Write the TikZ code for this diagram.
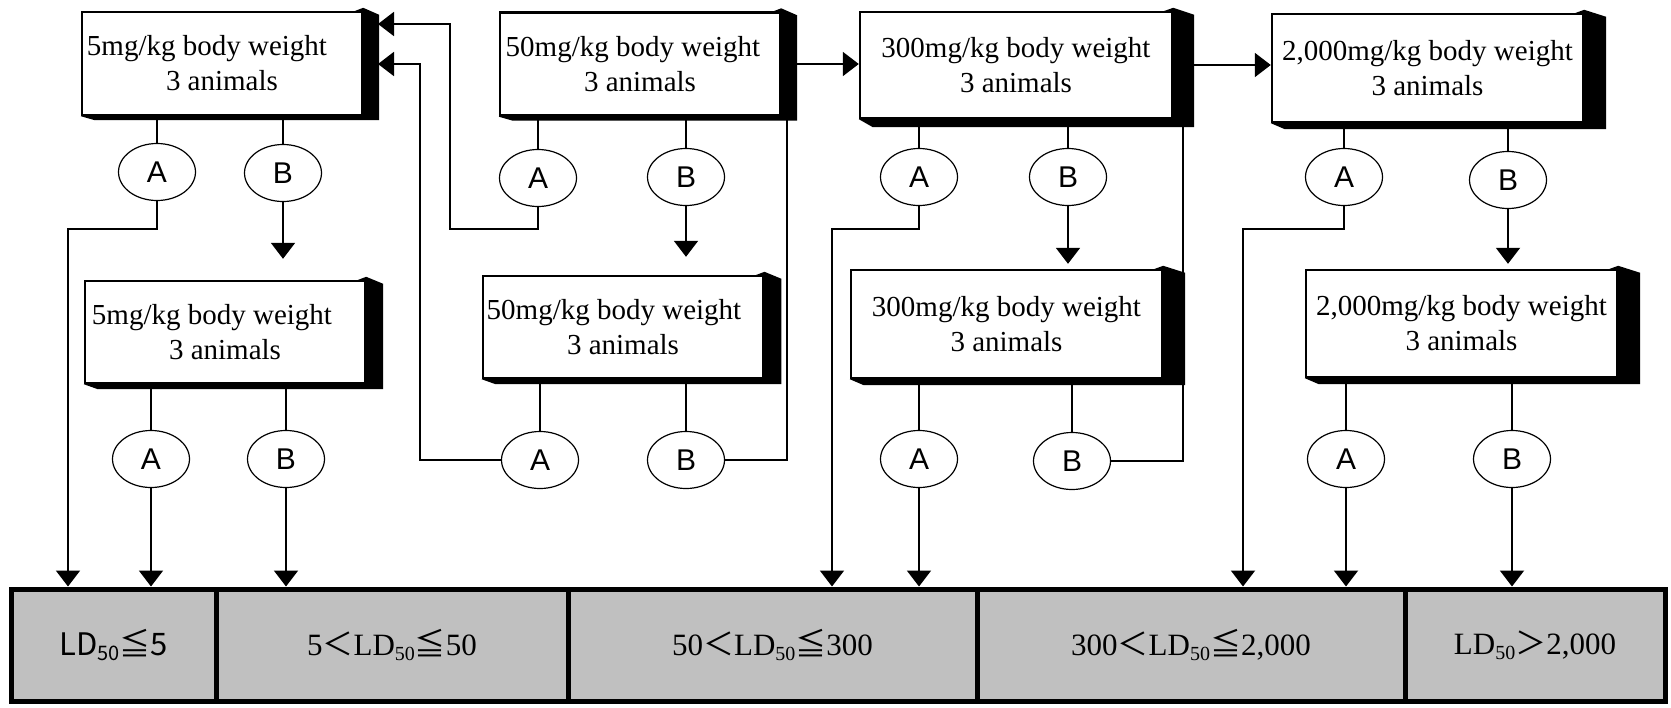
\documentclass[tikz,border=0pt]{standalone}
\usepackage{fontspec}
\setmainfont{Liberation Serif}
\newfontfamily\abfont{Liberation Sans}
\newfontfamily\cjk{Noto Sans CJK JP}
\usetikzlibrary{shapes.geometric,arrows.meta,backgrounds}
\definecolor{cellgray}{HTML}{C0C0C0}
\newcommand{\ldsub}[1]{\raisebox{-0.35ex}{\fontsize{10}{10}\selectfont #1}}
\tikzset{dose/.style={draw,line width=1.2pt,fill=white,align=center,inner sep=2pt,font=\fontsize{14.5}{17.5}\selectfont}}
\tikzset{test/.style={draw,ellipse,line width=0.6pt,minimum width=38.5pt,minimum height=28.5pt,inner sep=0pt,font=\abfont\fontsize{15}{15}\selectfont}}
\tikzset{class/.style={draw,line width=2.5pt,fill=cellgray,minimum height=56pt,inner sep=0pt,font=\fontsize{15.5}{17}\selectfont}}
\tikzset{link/.style={line width=0.6pt}}
\tikzset{arr/.style={line width=1pt,-{Triangle[width=12pt,length=8pt]}}}

\begin{document}
\begin{tikzpicture}[x=0.5pt,y=-0.5pt]
        \useasboundingbox (0,0) rectangle (1671,707);
        \node[dose,minimum width=140pt,minimum height=51.5pt] (t1) at (222,63.5) {5mg/kg body weight\hspace*{15pt}\\3 animals};
        \node[dose,minimum width=140pt,minimum height=51.5pt] (t2) at (640,64) {50mg/kg body weight\hspace*{7pt}\\3 animals};
        \node[dose,minimum width=156pt,minimum height=53pt] (t3) at (1016,65) {300mg/kg body weight\\3 animals};
        \node[dose,minimum width=155.5pt,minimum height=54pt] (t4) at (1427.5,68) {2,000mg/kg body weight\\3 animals};
        \node[dose,minimum width=140pt,minimum height=51pt] (s1) at (225,332) {5mg/kg body weight\hspace*{13pt}\\3 animals};
        \node[dose,minimum width=140pt,minimum height=51pt] (s2) at (623,327) {50mg/kg body weight\hspace*{9pt}\\3 animals};
        \node[dose,minimum width=155.5pt,minimum height=54pt] (s3) at (1006.5,324) {300mg/kg body weight\\3 animals};
        \node[dose,minimum width=155.5pt,minimum height=53.5pt] (s4) at (1461.5,323.5) {2,000mg/kg body weight\\3 animals};
        \begin{scope}[on background layer]
            \foreach \n/\dx/\dy in {t1/8/2,t2/8/2,t3/10.5/4,t4/11/3,s1/8.5/2.5,s2/8.5/2.5,s3/11/3,s4/11/3}
                \fill ([yshift=1.5pt]\n.north east) -- ([xshift=\dx pt,yshift=-2pt]\n.north east) -- ([xshift=\dx pt,yshift=-\dy pt]\n.south east) -- ([xshift=7pt,yshift=-\dy pt]\n.south west) -- (\n.south west) -- cycle;
        \end{scope}
        \node[test] (t1a) at (157,172) {A};
        \node[test] (t1b) at (283,173) {B};
        \node[test] (t2a) at (538,178) {A};
        \node[test] (t2b) at (686,177) {B};
        \node[test] (t3a) at (919,177) {A};
        \node[test] (t3b) at (1068,177) {B};
        \node[test] (t4a) at (1344,177) {A};
        \node[test] (t4b) at (1508,180) {B};
        \node[test] (s1a) at (151,459) {A};
        \node[test] (s1b) at (286,459) {B};
        \node[test] (s2a) at (540,460) {A};
        \node[test] (s2b) at (686,460) {B};
        \node[test] (s3a) at (919,459) {A};
        \node[test] (s3b) at (1072,461) {B};
        \node[test] (s4a) at (1346,459) {A};
        \node[test] (s4b) at (1512,459) {B};
        \node[class,minimum width=102.5pt] (r1) at (113.5,645) {\cjk LD\ldsub{50}≦5};
        \node[class,minimum width=176pt] (r2) at (392,645) {5{\cjk ＜}LD\ldsub{50}{\cjk ≦}50};
        \node[class,minimum width=204.5pt] (r3) at (772.5,645) {50{\cjk ＜}LD\ldsub{50}{\cjk ≦}300};
        \node[class,minimum width=214pt] (r4) at (1191,645) {300{\cjk ＜}LD\ldsub{50}{\cjk ≦}2,000};
        \node[class,minimum width=130pt] (r5) at (1535,645) {LD\ldsub{50}{\cjk ＞}2,000};
        \coordinate (k1) at (68,229);
        \coordinate (k2) at (450,229);
        \coordinate (e1) at (378,24);
        \coordinate (k3) at (420,64);
        \coordinate (e2) at (378,64);
        \coordinate (k4) at (787,117);
        \coordinate (k5) at (1183,124);
        \coordinate (k6) at (832,229);
        \coordinate (k7) at (1243,229);
        \foreach \b in {t1,t2,t3,t4,s1,s2,s3,s4}{
            \path[draw,link] (\b a) -- (\b a |- \b.south);
            \path[draw,link] (\b b) -- (\b b |- \b.south);
        }
            \path[draw,arr,shorten >=10.5pt] (t1b) -- (t1b |- s1.north);
            \path[draw,arr,shorten >=9pt] (t2b) -- (t2b |- s2.north);
            \path[draw,arr,shorten >=2.5pt] (t3b) -- (t3b |- s3.north);
            \path[draw,arr,shorten >=2.5pt] (t4b) -- (t4b |- s4.north);
            \path[draw,arr] (t2.east) -- (t2.east -| t3.west);
            \path[draw,arr] (t3.east) -- (t3.east -| t4.west);
            \path[draw,arr] (t1a) |- (k1) -- (k1 |- r1.north);
            \path[draw,arr] (t3a) |- (k6) -- (k6 |- r3.north);
            \path[draw,arr] (t4a) |- (k7) -- (k7 |- r4.north);
            \path[draw,arr] (t2a) |- (k2) |- (e1);
            \path[draw,arr] (s2a) -| (k3) -- (e2);
            \path[draw,link] (s2b) -| (k4);
            \path[draw,link] (s3b) -| (k5);
            \path[draw,arr] (s1a) -- (s1a |- r1.north);
            \path[draw,arr] (s1b) -- (s1b |- r2.north);
            \path[draw,arr] (s3a) -- (s3a |- r3.north);
            \path[draw,arr] (s4a) -- (s4a |- r4.north);
            \path[draw,arr] (s4b) -- (s4b |- r5.north);
    \end{tikzpicture}
\end{document}
